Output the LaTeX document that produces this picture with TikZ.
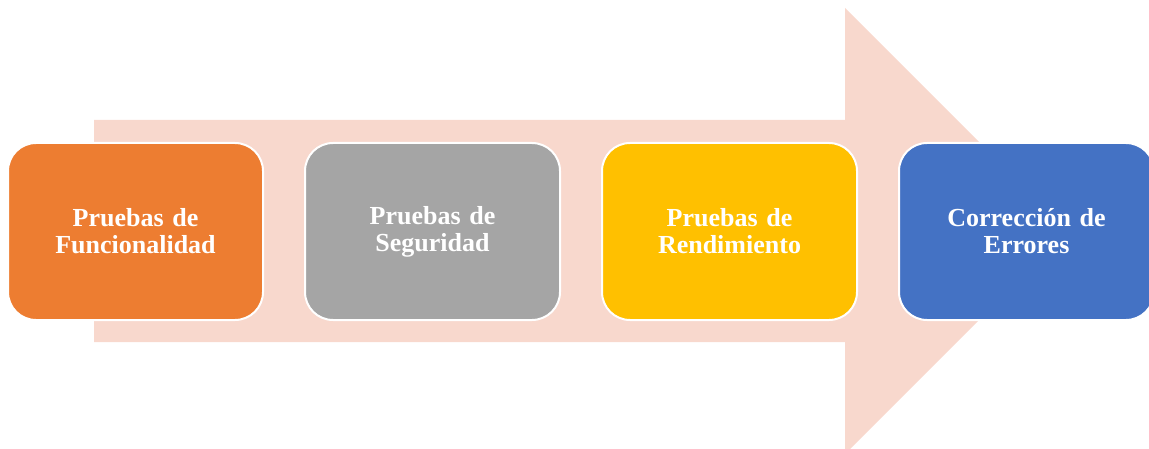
\documentclass[tikz,border=0pt]{standalone}
\usepackage{fontspec}
\setmainfont{Liberation Serif}
\usetikzlibrary{positioning}
\definecolor{arrowpink}{RGB}{248,216,205}
\definecolor{stageorange}{RGB}{237,125,49}
\definecolor{stagegray}{RGB}{165,165,165}
\definecolor{stagegold}{RGB}{255,192,0}
\definecolor{stageblue}{RGB}{68,114,196}
\begin{document}
\begin{tikzpicture}[x=1pt,y=1pt,
    stage/.style={draw=white,line width=2pt,rounded corners=28pt,minimum width=255pt,minimum height=177pt,
      text width=240pt,align=center,text=white,font=\fontsize{26}{27}\selectfont\bfseries},
    node distance=40pt]
    \useasboundingbox (0,0) rectangle (1149,448);
    \clip (0,0) rectangle (1149,448);

    % big arrow behind the stages
    \fill[arrowpink] (94,106) -- (845,106) -- (845,-6) -- (1068,217) -- (845,440) -- (845,328) -- (94,328) -- cycle;

    \node[stage,fill=stageorange] (func) at (135.5,216.5) {Pruebas de\\Funcionalidad};
    \node[stage,fill=stagegray,right=of func] (seg) {Pruebas de\\Seguridad};
    \node[stage,fill=stagegold,right=of seg] (rend) {Pruebas de\\Rendimiento};
    \node[stage,fill=stageblue,right=of rend] (corr) {Corrección de\\Errores};
\end{tikzpicture}
\end{document}
